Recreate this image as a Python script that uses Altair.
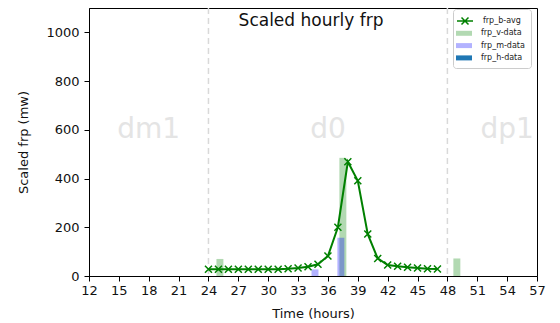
import altair as alt
import pandas as pd

# ---- data ----
hours = list(range(24, 48))
frp_b_avg = [28, 28, 28, 28, 28, 28, 28, 28, 30, 33, 38, 48, 82, 200,
             469, 391, 172, 72, 45, 40, 36, 33, 30, 29]

v_hours = [25.15, 37.5, 48.95]
v_vals = [70, 485, 72]
m_hours = [34.7, 37.3]
m_vals = [27, 157]

bar_series = ["frp_v-data", "frp_m-data", "frp_h-data"]
bar_colors = ["rgba(0,128,0,0.3)", "rgba(0,0,255,0.3)", "#1f77b4"]

day_labels = ["dm1", "d0", "dp1"]
day_centers = [18, 36, 54]
day_label_y = [600, 600, 600]
day_bounds = [24, 48]

x_ticks = list(range(12, 58, 3))
y_ticks = list(range(0, 1001, 200))
title_text = ["Scaled hourly frp"]

# ---- tables ----
line_df = pd.DataFrame({"hour": hours, "frp": frp_b_avg, "series": "frp_b-avg"})
bar_df = pd.DataFrame({
    "hour": v_hours + m_hours,
    "frp": v_vals + m_vals,
    "series": ["frp_v-data"] * len(v_hours) + ["frp_m-data"] * len(m_hours),
})
day_df = pd.DataFrame({"label": day_labels, "x": day_centers, "y": day_label_y})
bound_df = pd.DataFrame({"hour": day_bounds})
title_df = pd.DataFrame({"t": title_text})

FONT = "DejaVu Sans"
xscale = alt.Scale(domain=[12, 57], nice=False, zero=False)
yscale = alt.Scale(domain=[0, 1100], nice=False)

x_axis = alt.Axis(values=x_ticks, title="Time (hours)", labelFlush=False,
                  labelOverlap=False, tickSize=5, labelPadding=3, titlePadding=10,
                  grid=False, format="d")
y_axis = alt.Axis(values=y_ticks, title="Scaled frp (mw)", tickSize=5,
                  labelPadding=5, titlePadding=15, labelOverlap=False,
                  grid=False, format="d")


def X(field):
    return alt.X(field, scale=xscale, axis=x_axis)


def Y(field):
    return alt.Y(field, scale=yscale, axis=y_axis)


rules = alt.Chart(bound_df).mark_rule(
    strokeDash=[6, 4], color="#d9d9d9", strokeWidth=1.5
).encode(x=X("hour:Q"))

days = alt.Chart(day_df).mark_text(
    fontSize=28, color="#e4e4e4", font=FONT, baseline="middle", align="center"
).encode(x=X("x:Q"), y=Y("y:Q"), text="label:N")

bars = alt.Chart(bar_df).transform_calculate(
    x0="datum.hour - 0.35", x1="datum.hour + 0.35"
).mark_bar(strokeWidth=0).encode(
    x=X("x0:Q"),
    x2="x1:Q",
    y=Y("frp:Q"),
    y2=alt.datum(0),
    fill=alt.Fill(
        "series:N",
        scale=alt.Scale(domain=bar_series, range=bar_colors),
        legend=alt.Legend(
            orient="none", legendX=364, legendY=1, title=" ",
            titleFontSize=8, titlePadding=5.3, padding=6,
            symbolType="M-1.6,-0.5H1.6V0.5H-1.6Z", symbolSize=100,
            symbolStrokeWidth=0, labelFontSize=8, labelFont=FONT,
            labelOffset=12, rowPadding=3.3, strokeColor="#cccccc",
            cornerRadius=3, labelColor="#222",
        ),
    ),
)

line = alt.Chart(line_df).mark_line(strokeWidth=2).encode(
    x=X("hour:Q"),
    y=Y("frp:Q"),
    stroke=alt.Stroke(
        "series:N",
        scale=alt.Scale(domain=["frp_b-avg"], range=["green"]),
        legend=alt.Legend(
            orient="none", legendX=364, legendY=1, title=None, padding=6,
            symbolType="M-1.6,0H1.6M-0.7,-0.7L0.7,0.7M-0.7,0.7L0.7,-0.7",
            symbolSize=100, symbolStrokeWidth=1.5, labelFontSize=8,
            labelFont=FONT, labelOffset=12, labelColor="#222",
        ),
    ),
)

points = alt.Chart(line_df).mark_point(
    shape="M-1,-1L1,1M-1,1L1,-1", filled=False, color="green",
    stroke="green", size=49, strokeWidth=1.5, opacity=1
).encode(x=X("hour:Q"), y=Y("frp:Q"))

title = alt.Chart(title_df).mark_text(
    fontSize=17, font=FONT, color="#111", baseline="alphabetic", align="center"
).encode(x=alt.value(222), y=alt.value(18), text="t:N")

chart = alt.layer(rules, days, bars, line, points, title).properties(
    width=448,
    height=268,
    background="white",
    autosize=alt.AutoSizeParams(type="none"),
    padding={"left": 81, "top": 0, "right": 15, "bottom": 47},
).configure_view(
    stroke="black", strokeWidth=1
).configure_axis(
    grid=False, domainColor="black", tickColor="black", labelColor="#111",
    titleColor="#111", labelFont=FONT, titleFont=FONT, labelFontSize=13,
    titleFontSize=13, titleFontWeight="normal",
)

chart.save("out.html", embed_options={"renderer": "svg", "actions": False})
